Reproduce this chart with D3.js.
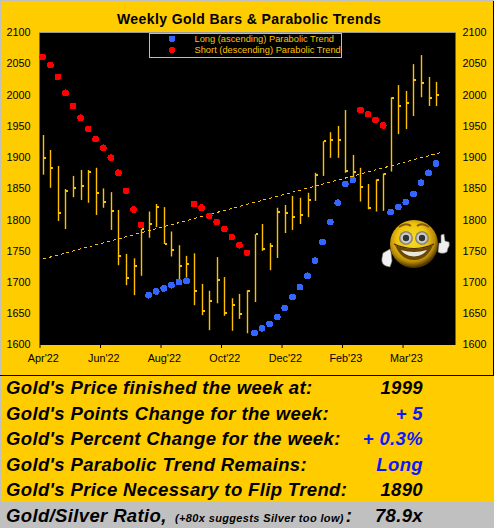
<!DOCTYPE html>
<html>
<head>
<meta charset="utf-8">
<script src="https://cdn.jsdelivr.net/npm/d3@7"></script>
<style>
  html, body { margin: 0; padding: 0; background: #ffcc00; }
  svg { display: block; font-family: "Liberation Sans", Arial, sans-serif; }
</style>
</head>
<body>
<svg id="chart" width="494" height="528"></svg>
<script>
// Weekly values.
const highs = [1935.5, 1911.5, 1886, 1849, 1870, 1879.5, 1879.5, 1883, 1850, 1844, 1815.5, 1745, 1738, 1785, 1813, 1825, 1820, 1781, 1759, 1742, 1746, 1697, 1686, 1740, 1708, 1674, 1681, 1687, 1776.5, 1793, 1762.5, 1819, 1823.5, 1838, 1835, 1843, 1875, 1925.5, 1940, 1950, 1975.5, 1903.5, 1883, 1857, 1864.5, 1874, 1996, 2015.5, 2006, 2049, 2063.5, 2028.5, 2020.5];
const lows = [1872, 1851, 1798, 1785, 1836, 1831.5, 1827, 1807.5, 1819, 1783.5, 1727, 1695, 1679, 1710, 1771, 1788, 1761, 1741, 1698, 1702, 1663, 1647, 1623, 1666, 1646, 1622, 1641, 1618, 1668, 1750, 1719, 1738.5, 1778.5, 1783.5, 1793, 1804, 1830, 1870, 1899, 1899, 1875, 1863.5, 1829, 1816.5, 1813, 1814, 1877, 1937, 1945, 1966, 1996, 1982, 1982];
const closes = [1899, 1883, 1811, 1846, 1851, 1854, 1877, 1843, 1829, 1814, 1742, 1707, 1726, 1784.5, 1793, 1820, 1761, 1752, 1725, 1729, 1686, 1653, 1670, 1704, 1651, 1663, 1649, 1686, 1776.5, 1753, 1757, 1813, 1811, 1804, 1807, 1831.5, 1872, 1925.5, 1927.5, 1927.5, 1878, 1876, 1853, 1819, 1863.5, 1873, 1995, 1982, 1987, 2023.5, 2019, 1995, 1999];
const parabolic = [2060.5, 2047.5, 2028.5, 2003, 1982, 1963, 1945, 1929, 1915, 1899, 1875, 1846, 1816, 1791.5, 1679, 1685, 1690, 1695, 1700, 1702, 1825, 1819, 1806, 1796, 1785, 1772, 1759, 1746.5, 1618.5, 1626, 1633, 1644, 1658.5, 1676, 1692, 1710, 1734, 1764, 1796, 1827, 1857, 1863.5, 1975.5, 1969, 1959.5, 1951, 1812, 1820, 1828, 1841, 1859, 1875, 1890];
const trendSide = "SSSSSSSSSSSSSSLLLLLLSSSSSSSSLLLLLLLLLLLLLLSSSSLLLLLLL".split("");
const regression = [{ week: 0, price: 1737 }, { week: 52.7, price: 1908 }];
const yTicks = [1600, 1650, 1700, 1750, 1800, 1850, 1900, 1950, 2000, 2050, 2100];
const monthTicks = [0, 8, 16, 24, 32, 40, 48];
const monthLabels = ["Apr'22", "Jun'22", "Aug'22", "Oct'22", "Dec'22", "Feb'23", "Mar'23"];
const legendLabels = ["Long (ascending) Parabolic Trend", "Short (descending) Parabolic Trend"];
const tableRows = [
  ["Gold's Price finished the week at:", "1999", "#000"],
  ["Gold's Points Change for the week:", "+ 5", "#0a18ff"],
  ["Gold's Percent Change for the week:", "+ 0.3%", "#0a18ff"],
  ["Gold's Parabolic Trend Remains:", "Long", "#0a18ff"],
  ["Gold's Price Necessary to Flip Trend:", "1890", "#000"],
];

// Rendering variables.
const gold = "#ffcc00";
const barColor = "#ffc000";
const plot = { left: 39.5, right: 455.5, top: 32.5, bottom: 345 };
const svg = d3.select("#chart");
const x = d3.scaleBand().domain(d3.range(55)).range([plot.left, plot.right]);
const xEdge = d3.scaleLinear().domain([0, 55]).range([plot.left, plot.right]);
const y = d3.scaleLinear().domain([1600, 2100]).range([344.5, 32.3]);
const cx = (i) => x(i) + x.bandwidth() / 2;

// Page panels.
svg.append("rect").attr("width", 494).attr("height", 528).attr("fill", gold);
svg.append("rect").attr("y", 502).attr("width", 494).attr("height", 26).attr("fill", "#c0c0c0");
svg.append("rect").attr("width", 494).attr("height", 1).attr("fill", "#c0c0c0");
svg.append("rect").attr("width", 1).attr("height", 528).attr("fill", "#c0c0c0");
svg.append("rect").attr("x", 493).attr("y", 1).attr("width", 1).attr("height", 375).attr("fill", "#000");
svg.append("rect").attr("y", 375).attr("width", 494).attr("height", 1).attr("fill", "#000");

// Plot area.
svg.append("rect")
  .attr("x", plot.left).attr("y", plot.top)
  .attr("width", plot.right - plot.left).attr("height", plot.bottom - plot.top)
  .attr("fill", "#000");
svg.append("line")
  .attr("x1", plot.left).attr("x2", plot.right)
  .attr("y1", 32.5).attr("y2", 32.5)
  .attr("stroke", "#9a9a9a");

svg.append("text")
  .attr("x", 249).attr("y", 24)
  .attr("text-anchor", "middle")
  .attr("font-size", 14).attr("font-weight", "bold")
  .attr("letter-spacing", 0.42)
  .text("Weekly Gold Bars & Parabolic Trends");

// Axes.
function styleAxis(g) {
  g.select(".domain").remove();
  g.selectAll("text").attr("font-size", 10.8).attr("font-family", "inherit").attr("fill", "#000");
  g.selectAll("line").attr("stroke", "#000");
}
svg.append("g").attr("transform", `translate(${plot.left},0)`)
  .call(d3.axisLeft(y).tickValues(yTicks).tickSize(0).tickPadding(9).tickFormat(d3.format("d")))
  .call(styleAxis);
svg.append("g").attr("transform", `translate(${plot.right},0)`)
  .call(d3.axisRight(y).tickValues(yTicks).tickSize(0).tickPadding(7).tickFormat(d3.format("d")))
  .call(styleAxis);
svg.append("g").attr("transform", `translate(0,${plot.bottom})`)
  .call(d3.axisBottom(xEdge).tickValues(monthTicks).tickSize(3).tickFormat(""))
  .call(styleAxis);
svg.append("g").attr("transform", `translate(0,${plot.bottom})`)
  .call(d3.axisBottom(x).tickValues(monthTicks).tickSize(0).tickPadding(9)
    .tickFormat((d, i) => monthLabels[i]))
  .call(styleAxis);

// Trend line.
svg.append("line")
  .attr("x1", cx(regression[0].week)).attr("y1", y(regression[0].price))
  .attr("x2", cx(0) + regression[1].week * x.step()).attr("y2", y(regression[1].price))
  .attr("stroke", barColor).attr("stroke-width", 1)
  .attr("stroke-dasharray", "3,3")
  .attr("shape-rendering", "crispEdges");

// Weekly bars: high-low stem with the close tick on the right.
const bars = svg.append("g").selectAll("g").data(highs).join("g");
bars.append("rect")
  .attr("x", (d, i) => Math.floor(cx(i)) - 0.2)
  .attr("width", 1.4)
  .attr("y", (d) => y(d))
  .attr("height", (d, i) => y(lows[i]) - y(d))
  .attr("fill", barColor);
bars.append("rect")
  .attr("x", (d, i) => Math.floor(cx(i)) + 1)
  .attr("width", 2)
  .attr("y", (d, i) => y(closes[i]) - 1)
  .attr("height", 2)
  .attr("fill", barColor)
  .attr("shape-rendering", "crispEdges");

// Parabolic dots.
const dotColor = { L: "#3366ff", S: "#ff0000" };
svg.append("g").selectAll("circle").data(parabolic).join("circle")
  .attr("cx", (d, i) => cx(i) - 0.5)
  .attr("cy", (d) => y(d))
  .attr("r", 3.4)
  .attr("fill", (d, i) => dotColor[trendSide[i]])
  .attr("shape-rendering", "crispEdges");

// Legend.
const legend = svg.append("g");
legend.append("rect")
  .attr("x", 149.5).attr("y", 33.5).attr("width", 192).attr("height", 24)
  .attr("fill", "#000").attr("stroke", barColor);
legendLabels.forEach((label, i) => {
  const rowY = 38.7 + i * 11.3;
  legend.append("circle").attr("cx", 172).attr("cy", rowY).attr("r", 3.2)
    .attr("fill", i ? dotColor.S : dotColor.L)
    .attr("shape-rendering", "crispEdges");
  legend.append("text").attr("x", 194.5).attr("y", rowY + 3.4)
    .attr("font-size", 9.3).attr("fill", barColor).text(label);
});

// Smiley with thumbs up.
const defs = svg.append("defs");
const face = defs.append("radialGradient").attr("id", "face")
  .attr("cx", "46%").attr("cy", "40%").attr("r", "58%");
[[0, "#fbdc28"], [0.55, "#eec40e"], [0.82, "#b88a05"], [1, "#4e3800"]].forEach(([o, c]) =>
  face.append("stop").attr("offset", o).attr("stop-color", c));
const eye = defs.append("radialGradient").attr("id", "eye");
[[0, "#e8e8e8"], [0.65, "#cfcfcb"], [1, "#62625a"]].forEach(([o, c]) =>
  eye.append("stop").attr("offset", o).attr("stop-color", c));

const smiley = svg.append("g").attr("transform", "translate(414,244)");
smiley.append("circle").attr("r", 24).attr("fill", "url(#face)");
// brows
[-1, 1].forEach((s) => {
  smiley.append("path")
    .attr("d", `M${s * 3},-18 Q${s * 8},-22 ${s * 15},-17`)
    .attr("fill", "none").attr("stroke", "#8a5a10").attr("stroke-width", 2);
  smiley.append("circle").attr("cx", s * 8).attr("cy", -6).attr("r", 6.8).attr("fill", "url(#eye)");
  smiley.append("circle").attr("cx", s * 8).attr("cy", -6).attr("r", 3.2).attr("fill", "#333");
});
// mouth
smiley.append("path")
  .attr("d", "M-19,1 Q0,9 19,1 Q13,16 0,16 Q-13,16 -19,1 Z")
  .attr("fill", "#6b4705");
smiley.append("path")
  .attr("d", "M-13,6 Q0,10 13,6 Q9,12 0,12.5 Q-9,12 -13,6 Z")
  .attr("fill", "#e8e8dc");
smiley.append("path")
  .attr("d", "M-20,0 Q0,9 20,0")
  .attr("fill", "none").attr("stroke", "#3e2a02").attr("stroke-width", 1.2);
// hands
smiley.append("path")
  .attr("d", "M25,-1 L27,-1 L27,-9 L30,-10 L31,-3 L35,-2 Q36,2 34,4 L33,8 Q30,10 26,9 L24,8 Z")
  .attr("fill", "#efefef").attr("stroke", "#77776f").attr("stroke-width", 0.6);
smiley.append("path")
  .attr("d", "M-31,9 L-24,5 L-23,8 L-22,17 L-24,23 L-28,22 Q-33,20 -32,14 Z")
  .attr("fill", "#f2f2f2").attr("stroke", "#77776f").attr("stroke-width", 0.6);

// Table under the chart.
const labelFont = { size: 18.5, spacing: 0.36 };
const rowY = d3.scalePoint().domain(d3.range(tableRows.length + 1)).range([394, 522]);
const table = svg.append("g")
  .attr("font-weight", "bold").attr("font-style", "italic").attr("font-size", labelFont.size);
tableRows.forEach(([label, value, color], i) => {
  table.append("text").attr("x", 6).attr("y", rowY(i))
    .attr("letter-spacing", labelFont.spacing).text(label);
  table.append("text").attr("x", 423).attr("y", rowY(i))
    .attr("text-anchor", "end").attr("fill", color)
    .attr("letter-spacing", labelFont.spacing).text(value);
});
const ratio = table.append("text").attr("x", 6).attr("y", rowY(5))
  .attr("letter-spacing", labelFont.spacing);
ratio.append("tspan").text("Gold/Silver Ratio,");
ratio.append("tspan").attr("x", 175).attr("font-size", 11).text("(+80x suggests Silver too low)");
ratio.append("tspan").attr("dx", 2).text(":");
table.append("text").attr("x", 423).attr("y", rowY(5))
  .attr("text-anchor", "end").attr("letter-spacing", labelFont.spacing).text("78.9x");
</script>
</body>
</html>
